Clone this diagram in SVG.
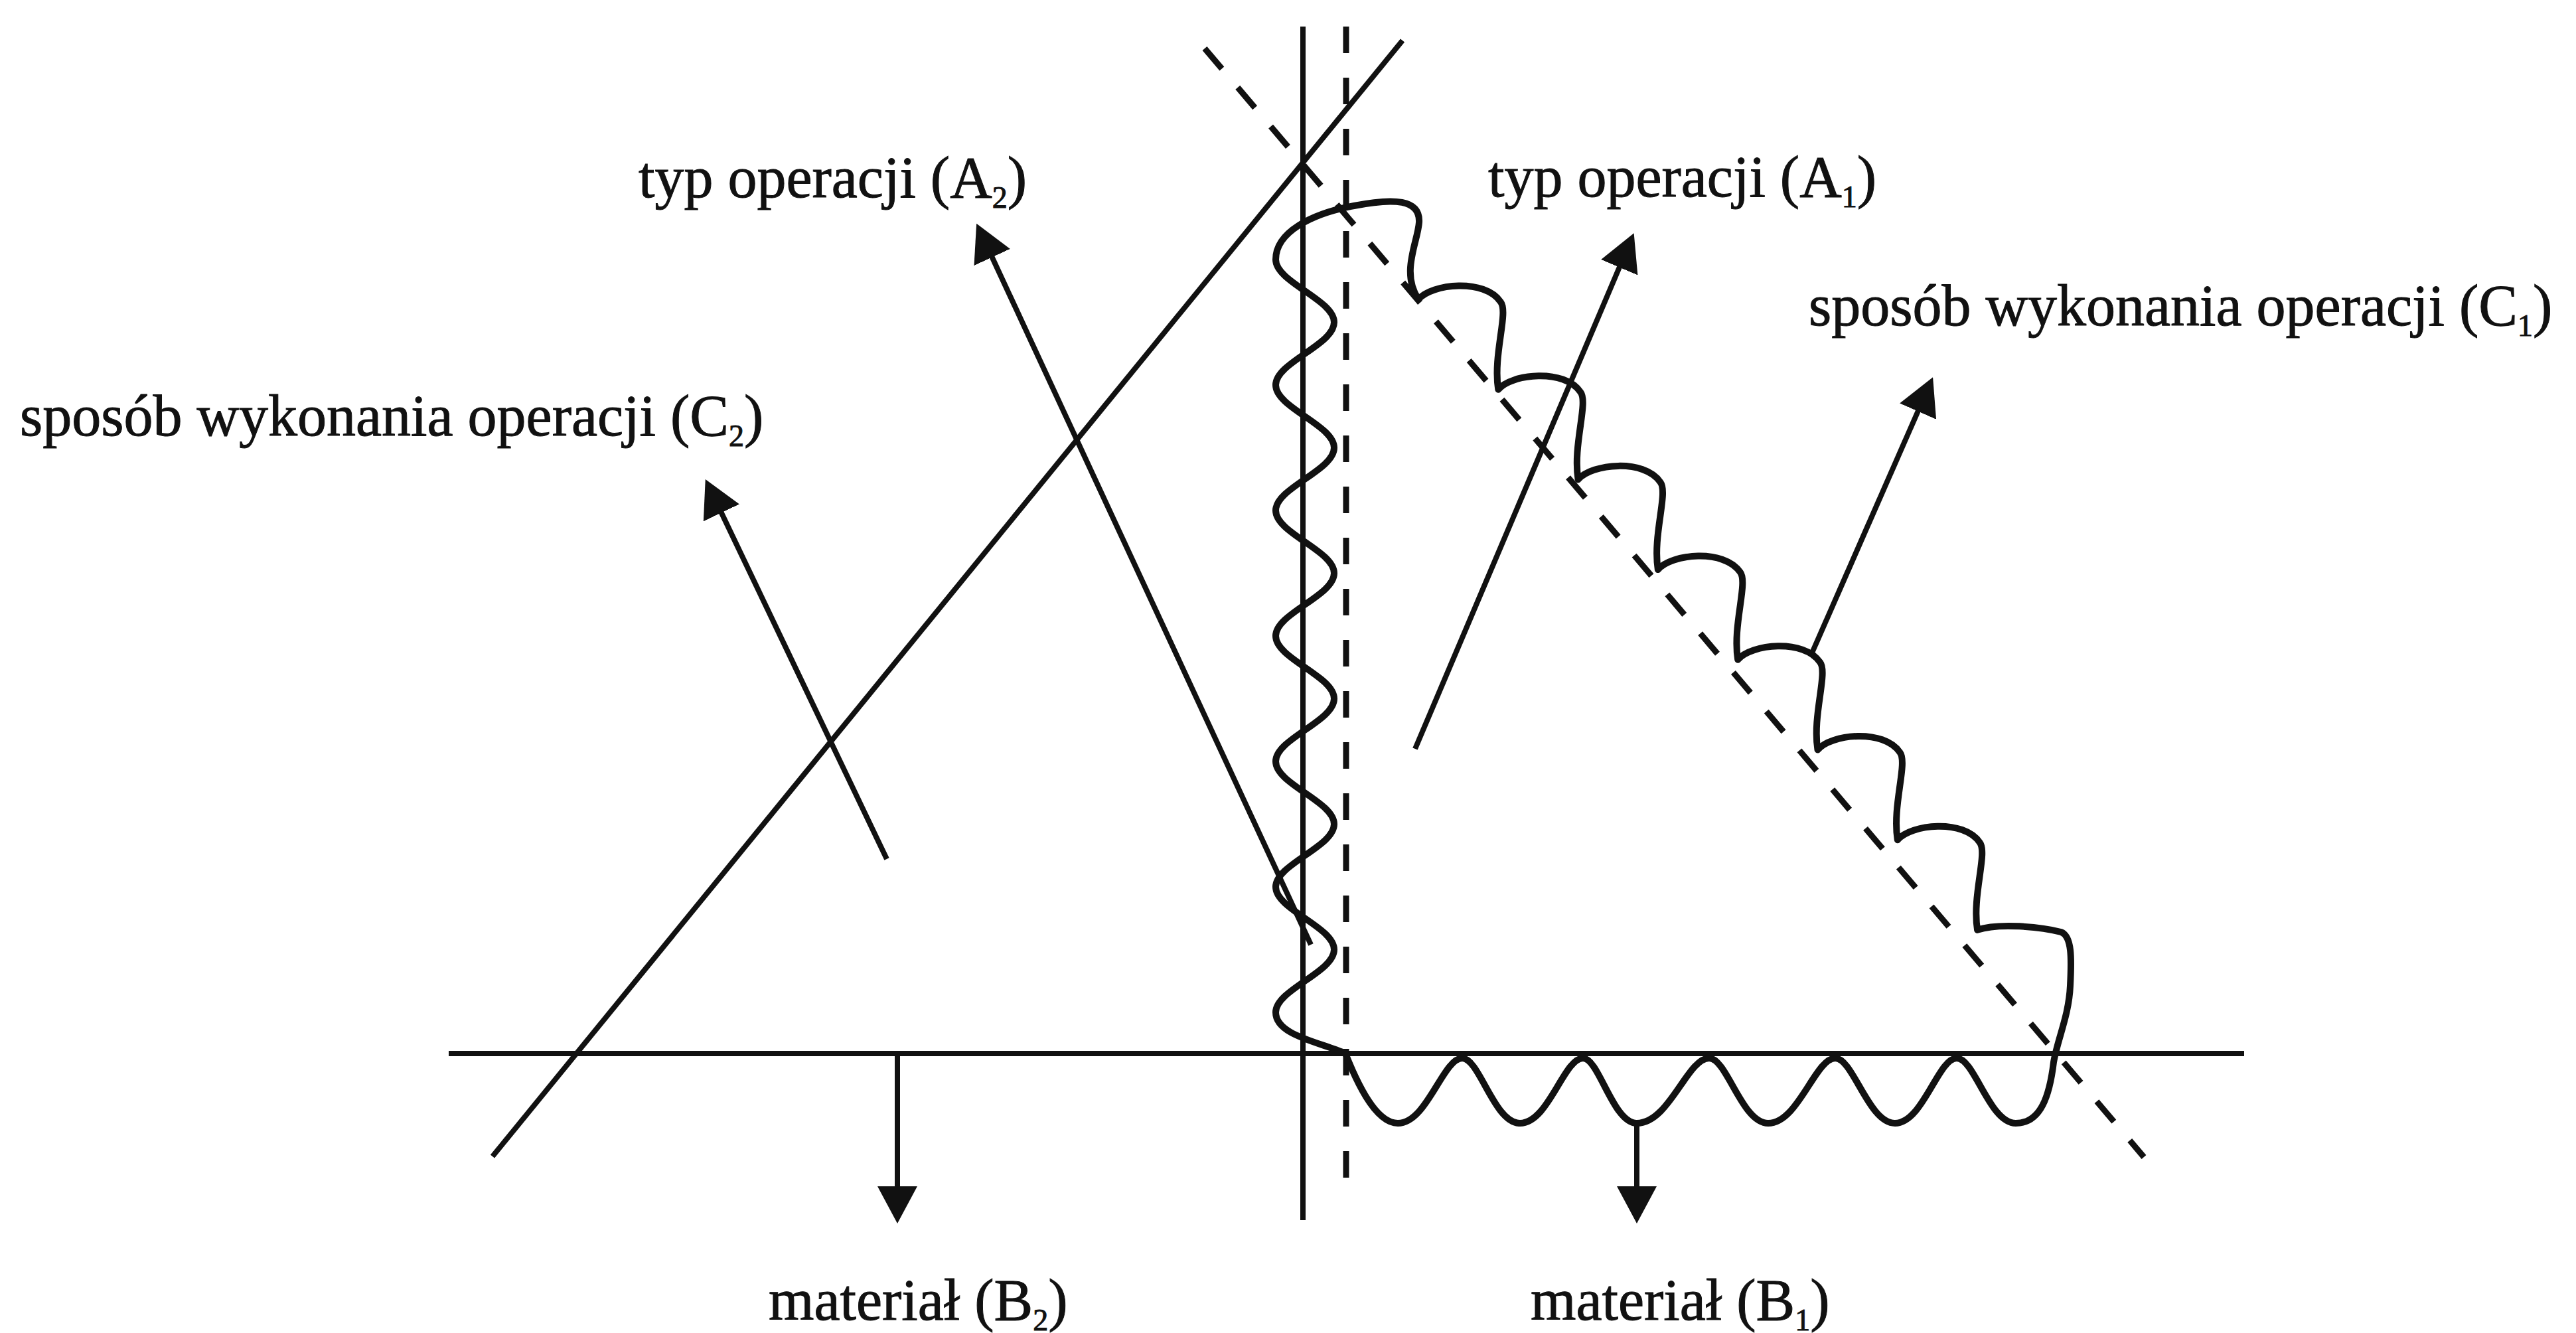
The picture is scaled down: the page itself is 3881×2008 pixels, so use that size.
<svg xmlns="http://www.w3.org/2000/svg" width="3881" height="2008" viewBox="0 0 3881 2008">
<style>
.ln{stroke:#111;stroke-width:8;fill:none}
.dash{stroke:#111;stroke-width:9;fill:none;stroke-dasharray:40 37}
.wave{stroke:#111;stroke-width:10;fill:none;stroke-linejoin:round}
.arr{stroke:#111;stroke-width:8;fill:none;marker-end:url(#ah)}
.lbl{font-family:"Liberation Serif","Times New Roman",serif;font-size:88px;fill:#111;stroke:#111;stroke-width:1}
.sub{font-size:46px}
</style>
<defs>
<marker id="ah" markerUnits="userSpaceOnUse" markerWidth="56" markerHeight="60" viewBox="0 0 56 60" refX="16" refY="30" orient="auto">
<path d="M0,0 L56,30 L0,60 Z" fill="#111"/>
</marker>
</defs>
<rect width="3881" height="2008" fill="#fff"/>
<g id="axes">
<line class="ln" x1="1963" y1="40" x2="1963" y2="1838"/>
<line class="dash" x1="2028" y1="40" x2="2028" y2="1792"/>
<line class="ln" x1="676" y1="1587" x2="3381" y2="1587"/>
<line class="ln" x1="742" y1="1742" x2="2113" y2="61"/>
<line class="dash" x1="1815" y1="73" x2="3230" y2="1743"/>
</g>
<g id="wave-boundary">
<path class="wave" d="M1922,391 C1922,350 1975,322 2040,310 C2100,298 2140,300 2138,335 C2136,365 2110,410 2137,451
c20,-24 100,-32 124,4 c12,16 -12,80 -3.7,131.7
c20,-24 100,-32 124,4 c12,16 -12,80 -3.7,131.7
c20,-24 100,-32 124,4 c12,16 -12,80 -3.7,131.7
c20,-24 100,-32 124,4 c12,16 -12,80 -3.7,131.7
c20,-24 100,-32 124,4 c12,16 -12,80 -3.7,131.7
c20,-24 100,-32 124,4 c12,16 -12,80 -3.7,131.7
c20,-24 100,-32 124,4 c12,16 -12,80 -3.7,131.7
C3010,1390 3075,1396 3105,1404 C3122,1410 3121,1445 3119,1485 C3117,1530 3100,1565 3094,1600 C3088,1650 3075,1692 3037,1692
C2997,1692 2975,1594 2948,1594 C2920,1594 2897,1692 2855,1692
C2815,1692 2792,1594 2765,1594 C2735,1594 2709,1692 2664,1692
C2624,1692 2602,1594 2575,1594 C2542,1594 2515,1692 2466,1692
C2430,1692 2409,1594 2385,1594 C2356,1594 2333,1692 2290,1692
C2251,1692 2229,1594 2203,1594 C2174,1594 2150,1692 2106,1692
C2070,1692 2040,1620 2027,1587 C1990,1570 1922,1560 1922,1525
c0,-34 88,-60.5 88,-94.5 c0,-34 -88,-60.5 -88,-94.5
c0,-34 88,-60.5 88,-94.5 c0,-34 -88,-60.5 -88,-94.5
c0,-34 88,-60.5 88,-94.5 c0,-34 -88,-60.5 -88,-94.5
c0,-34 88,-60.5 88,-94.5 c0,-34 -88,-60.5 -88,-94.5
c0,-34 88,-60.5 88,-94.5 c0,-34 -88,-60.5 -88,-94.5
c0,-34 88,-60.5 88,-94.5 c0,-34 -88,-60.5 -88,-94.5 Z"/>
</g>
<g id="connectors">
<line class="arr" x1="1975" y1="1423" x2="1488" y2="373"/>
<line class="arr" x1="1336" y1="1294" x2="1080" y2="758"/>
<line class="arr" x1="2132" y1="1128" x2="2446" y2="388"/>
<line class="arr" x1="2728" y1="988" x2="2896" y2="605"/>
<line class="arr" x1="1352" y1="1587" x2="1352" y2="1803"/>
<line class="arr" x1="2466" y1="1692" x2="2466" y2="1803"/>
</g>
<g id="label-A2"><text class="lbl" x="962" y="297">typ operacji (A<tspan class="sub" dy="16">2</tspan><tspan dy="-16">)</tspan></text></g>
<g id="label-A1"><text class="lbl" x="2242" y="296">typ operacji (A<tspan class="sub" dy="16">1</tspan><tspan dy="-16">)</tspan></text></g>
<g id="label-C1"><text class="lbl" x="2725" y="490">sposób wykonania operacji (C<tspan class="sub" dy="16">1</tspan><tspan dy="-16">)</tspan></text></g>
<g id="label-C2"><text class="lbl" x="30" y="656">sposób wykonania operacji (C<tspan class="sub" dy="16">2</tspan><tspan dy="-16">)</tspan></text></g>
<g id="label-B2"><text class="lbl" x="1158" y="1988">materiał (B<tspan class="sub" dy="16">2</tspan><tspan dy="-16">)</tspan></text></g>
<g id="label-B1"><text class="lbl" x="2306" y="1988">materiał (B<tspan class="sub" dy="16">1</tspan><tspan dy="-16">)</tspan></text></g>
</svg>
